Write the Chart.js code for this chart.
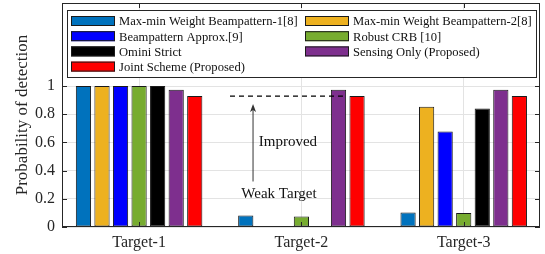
<!DOCTYPE html>
<html><head><meta charset="utf-8">
<script src="https://cdn.jsdelivr.net/npm/chart.js@4"></script>
<style>html,body{margin:0;padding:0;background:#fff}#wrap{width:545px;height:254px}</style>
</head><body><div id="wrap"><canvas id="c" width="545" height="254"></canvas></div>
<script>
const categories = ["Target-1", "Target-2", "Target-3"];
const seriesNames = [
  "Max-min Weight Beampattern-1[8]",
  "Max-min Weight Beampattern-2[8]",
  "Beampattern Approx.[9]",
  "Robust CRB [10]",
  "Omini Strict",
  "Sensing Only (Proposed)",
  "Joint Scheme (Proposed)"
];
const maxMin1 = [1.0, 0.082, 0.103];
const maxMin2 = [1.0, 0.0, 0.853];
const beamApprox = [1.0, 0.0, 0.677];
const robustCRB = [1.0, 0.075, 0.099];
const ominiStrict = [1.0, 0.0, 0.842];
const sensingOnly = [0.974, 0.974, 0.974];
const jointScheme = [0.929, 0.929, 0.929];
const yTicks = [0, 0.2, 0.4, 0.6, 0.8, 1];
const colors = ["#0072BD", "#EDB120", "#0000FF", "#77AC30", "#000000", "#7E2F8E", "#FF0000"];
const allSeries = [maxMin1, maxMin2, beamApprox, robustCRB, ominiStrict, sensingOnly, jointScheme];

const FONT = "'Liberation Serif', 'Times New Roman', serif";
const AX = "#262626";

const datasets = allSeries.map((vals, i) => ({
  label: seriesNames[i],
  data: vals.map((v, j) => ({x: j + 1, y: v})),
  backgroundColor: colors[i],
  borderColor: "#1a1a1a",
  borderWidth: 1,
  borderSkipped: false,
  categoryPercentage: 0.8,
  barPercentage: 0.82
}));

const overlay = {
  id: 'overlay',
  afterDatasetsDraw(chart) {
    const ctx = chart.ctx, a = chart.chartArea;
    const xs = chart.scales.x, ys = chart.scales.y;
    ctx.save();
    // annotation: dashed line at joint scheme level
    const yLvl = ys.getPixelForValue(jointScheme[1]);
    ctx.strokeStyle = "#000"; ctx.lineWidth = 1.2; ctx.setLineDash([5, 4]);
    ctx.beginPath(); ctx.moveTo(xs.getPixelForValue(1.56), yLvl); ctx.lineTo(xs.getPixelForValue(2.256), yLvl); ctx.stroke();
    ctx.setLineDash([]);
    // arrow
    const ax = xs.getPixelForValue(1.702);
    const y0 = ys.getPixelForValue(0.323), y1 = ys.getPixelForValue(0.873);
    ctx.strokeStyle = "#333"; ctx.fillStyle = "#333"; ctx.lineWidth = 1;
    ctx.beginPath(); ctx.moveTo(ax, y0); ctx.lineTo(ax, y1 + 3); ctx.stroke();
    ctx.beginPath(); ctx.moveTo(ax, y1); ctx.lineTo(ax - 3, y1 + 8); ctx.lineTo(ax, y1 + 6); ctx.lineTo(ax + 3, y1 + 8); ctx.closePath(); ctx.fill();
    // texts
    ctx.fillStyle = "#111"; ctx.font = "15px " + FONT; ctx.textBaseline = "middle";
    ctx.textAlign = "left";
    ctx.fillText("Improved", xs.getPixelForValue(1.737), ys.getPixelForValue(0.606));
    ctx.textAlign = "center";
    ctx.fillText("Weak Target", xs.getPixelForValue(1.862), ys.getPixelForValue(0.236));
    // frame
    ctx.strokeStyle = AX; ctx.lineWidth = 1;
    ctx.strokeRect(Math.round(a.left) + 0.5, Math.round(a.top) + 0.5, Math.round(a.right - a.left) - 1, Math.round(a.bottom - a.top) - 1);
    // inward ticks
    ctx.beginPath();
    yTicks.forEach(v => {
      const y = Math.round(ys.getPixelForValue(v)) + 0.5;
      ctx.moveTo(a.left, y); ctx.lineTo(a.left + 5, y);
      ctx.moveTo(a.right, y); ctx.lineTo(a.right - 5, y);
    });
    categories.forEach((c, j) => {
      const x = Math.round(xs.getPixelForValue(j + 1)) + 0.5;
      ctx.moveTo(x, a.bottom); ctx.lineTo(x, a.bottom - 5);
      ctx.moveTo(x, a.top); ctx.lineTo(x, a.top + 5);
    });
    ctx.stroke();
    // legend box
    const lx = a.left + 5, ly = a.top + 7, lw = a.right - a.left - 9, lh = 67;
    ctx.fillStyle = "#fff"; ctx.fillRect(lx, ly, lw, lh);
    ctx.strokeStyle = "#262626"; ctx.lineWidth = 1;
    ctx.strokeRect(lx + 0.5, ly + 0.5, lw, lh);
    ctx.font = "12.6px " + FONT; ctx.textAlign = "left"; ctx.textBaseline = "middle";
    seriesNames.forEach((name, i) => {
      const col = i % 2, row = Math.floor(i / 2);
      const sx = col === 0 ? lx + 4 : lx + 238;
      const cy = ly + 11 + row * 15.2;
      ctx.fillStyle = colors[i];
      ctx.fillRect(sx, cy - 5, 44, 10);
      ctx.strokeStyle = "#1a1a1a";
      ctx.strokeRect(sx + 0.5, cy - 5 + 0.5, 43, 9);
      ctx.fillStyle = "#111";
      ctx.fillText(name, sx + 48, cy + 1);
    });
    ctx.restore();
  }
};

new Chart(document.getElementById('c'), {
  type: 'bar',
  data: { datasets },
  options: {
    responsive: false,
    animation: false,
    layout: { padding: { top: 3, right: 5, left: 0, bottom: 0 } },
    plugins: { legend: { display: false }, tooltip: { enabled: false } },
    scales: {
      x: {
        type: 'linear', min: 0.525, max: 3.47, offset: false,
        afterBuildTicks(s) { s.ticks = categories.map((c, j) => ({ value: j + 1 })); },
        afterFit(s) { s.height = 27; s.paddingLeft = 0; s.paddingRight = 0; },
        ticks: {
          callback: (v) => categories[Math.round(v) - 1] || "",
          font: { family: FONT, size: 16 }, color: AX, padding: 6, maxRotation: 0
        },
        grid: { color: "#e3e3e3", drawTicks: false, offset: false },
        border: { display: false }
      },
      y: {
        min: 0, max: 1.59,
        afterBuildTicks(s) { s.ticks = yTicks.map(v => ({ value: v })); },
        afterFit(s) { s.width = 62; s.paddingTop = 0; s.paddingBottom = 0; },
        ticks: {
          font: { family: FONT, size: 16 }, color: AX, padding: 7,
          callback: (v) => String(v)
        },
        grid: { color: "#e3e3e3", drawTicks: false },
        border: { display: false },
        title: { display: true, text: "Probability of detection", font: { family: FONT, size: 17 }, color: AX, padding: { top: 12, bottom: 0 } }
      }
    }
  },
  plugins: [overlay]
});
</script>
</body></html>
